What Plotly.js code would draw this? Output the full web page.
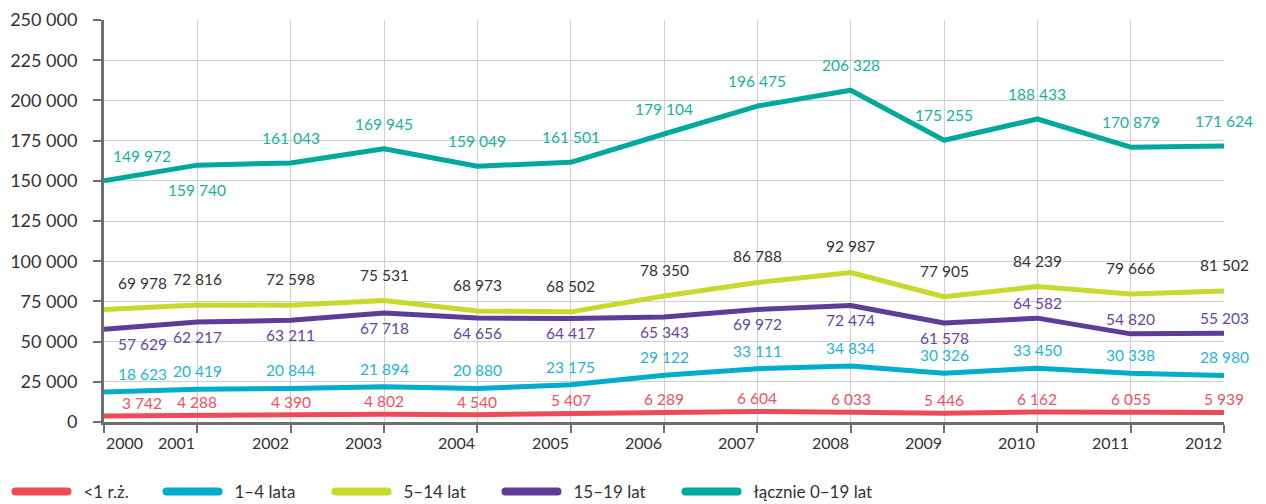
<!DOCTYPE html>
<html>
<head>
<meta charset="utf-8">
<script src="https://cdn.plot.ly/plotly-3.0.1.min.js"></script>
<style>
html,body{margin:0;padding:0;background:#fff;}
#chart{width:1266px;height:504px;}
.legendlines path{stroke-linecap:round;stroke-width:8px !important;}
text.legendtext, text.legend2text, text.legend3text, text.legend4text, text.legend5text{transform:translateX(11px);}
.scatterlayer .js-line{stroke-linejoin:round;}
</style>
</head>
<body>
<div id="chart"></div>
<script>
// ---- data ----
var years = [2000, 2001, 2002, 2003, 2004, 2005, 2006, 2007, 2008, 2009, 2010, 2011, 2012];
var yearLabels = ['2000','2001','2002','2003','2004','2005','2006','2007','2008','2009','2010','2011','2012'];
var seriesNames = ['<1 r.ż.', '1–4 lata', '5–14 lat', '15–19 lat', 'łącznie 0–19 lat'];
var under1   = [3742, 4288, 4390, 4802, 4540, 5407, 6289, 6604, 6033, 5446, 6162, 6055, 5939];
var age1to4  = [18623, 20419, 20844, 21894, 20880, 23175, 29122, 33111, 34834, 30326, 33450, 30338, 28980];
var age5to14 = [69978, 72816, 72598, 75531, 68973, 68502, 78350, 86788, 92987, 77905, 84239, 79666, 81502];
var age15to19= [57629, 62217, 63211, 67718, 64656, 64417, 65343, 69972, 72474, 61578, 64582, 54820, 55203];
var total    = [149972, 159740, 161043, 169945, 159049, 161501, 179104, 196475, 206328, 175255, 188433, 170879, 171624];
var yTickVals = [0, 25000, 50000, 75000, 100000, 125000, 150000, 175000, 200000, 225000, 250000];
var yTickText = ['0','25 000','50 000','75 000','100 000','125 000','150 000','175 000','200 000','225 000','250 000'];

// ---- styles ----
var lineColors  = ['#EF4A58', '#00ADCD', '#C7D92C', '#5E3C98', '#00A99B'];
var labelColors = ['#F0505F', '#1FB4D4', '#333333', '#6446A2', '#16AFA2'];
var labelSides = [
  ['a','a','a','a','a','a','a','a','a','a','a','a','a'],
  ['a','a','a','a','a','a','a','a','a','a','a','a','a'],
  ['a','a','a','a','a','a','a','a','a','a','a','a','a'],
  ['b','b','b','b','b','b','b','b','b','b','a','a','a'],
  ['a','b','a','a','a','a','a','a','a','a','a','a','a']
];
var labelOffsets = [13, 18, 26, 15, 25];
var legendLeftPx = [10.5, 161.5, 330.5, 500.5, 680.5];

var allSeries = [under1, age1to4, age5to14, age15to19, total];
function fmt(v){ return String(v).replace(/\B(?=(\d{3})+(?!\d))/g, ' '); }
var legendIds = ['legend', 'legend2', 'legend3', 'legend4', 'legend5'];

var traces = allSeries.map(function(vals, i){
  return {
    x: years, y: vals, name: seriesNames[i], type: 'scatter', mode: 'lines',
    line: {color: lineColors[i], width: 5},
    legend: legendIds[i],
    hoverinfo: 'x+y'
  };
});

var annotations = [];
allSeries.forEach(function(vals, i){
  vals.forEach(function(v, j){
    annotations.push({
      x: years[j], y: v, xref: 'x', yref: 'y', text: fmt(v), showarrow: false,
      xanchor: 'center', yanchor: 'middle',
      xshift: j === 0 ? 38 : 0,
      yshift: labelSides[i][j] === 'a' ? labelOffsets[i] : -labelOffsets[i],
      font: {family: 'Lato, sans-serif', size: 15.5, color: labelColors[i]}
    });
  });
});
years.forEach(function(yr, j){
  annotations.push({
    x: yr, y: 0, xref: 'x', yref: 'paper', text: yearLabels[j], showarrow: false,
    xanchor: j === 0 ? 'left' : 'right', yanchor: 'middle', yshift: -20,
    font: {family: 'Lato, sans-serif', size: 16, color: '#333333'}
  });
});

var layout = {
  width: 1266, height: 504,
  margin: {l: 104, r: 42, t: 20, b: 82},
  paper_bgcolor: '#ffffff', plot_bgcolor: '#ffffff',
  font: {family: 'Lato, sans-serif', color: '#333333'},
  showlegend: true,
  xaxis: {
    range: [2000, 2012], tickvals: years, showticklabels: false,
    showgrid: true, gridcolor: '#cfcfcf', gridwidth: 1,
    showline: true, linecolor: '#6e6e6e', linewidth: 2.5,
    ticks: 'outside', ticklen: 8, tickwidth: 2, tickcolor: '#6e6e6e',
    zeroline: false, fixedrange: true
  },
  yaxis: {
    range: [0, 250000], tickvals: yTickVals, ticktext: yTickText,
    showgrid: true, gridcolor: '#cfcfcf', gridwidth: 1,
    showline: true, linecolor: '#6e6e6e', linewidth: 3,
    ticks: 'outside', ticklen: 8, tickwidth: 2, tickcolor: '#6e6e6e',
    ticklabelstandoff: 12,
    tickfont: {family: 'Lato, sans-serif', size: 18, color: '#333333'},
    zeroline: false, fixedrange: true
  },
  annotations: annotations
};
legendIds.forEach(function(id, i){
  layout[id] = {
    orientation: 'h', xref: 'container', yref: 'container',
    x: legendLeftPx[i] / 1266, y: 0.024, xanchor: 'left', yanchor: 'middle',
    itemwidth: 52, entrywidth: 160, entrywidthmode: 'pixels', bgcolor: 'rgba(0,0,0,0)',
    font: {family: 'Lato, sans-serif', size: 17, color: '#333333'}
  };
});

Plotly.newPlot('chart', traces, layout, {displayModeBar: false, staticPlot: true});
</script>
</body>
</html>
